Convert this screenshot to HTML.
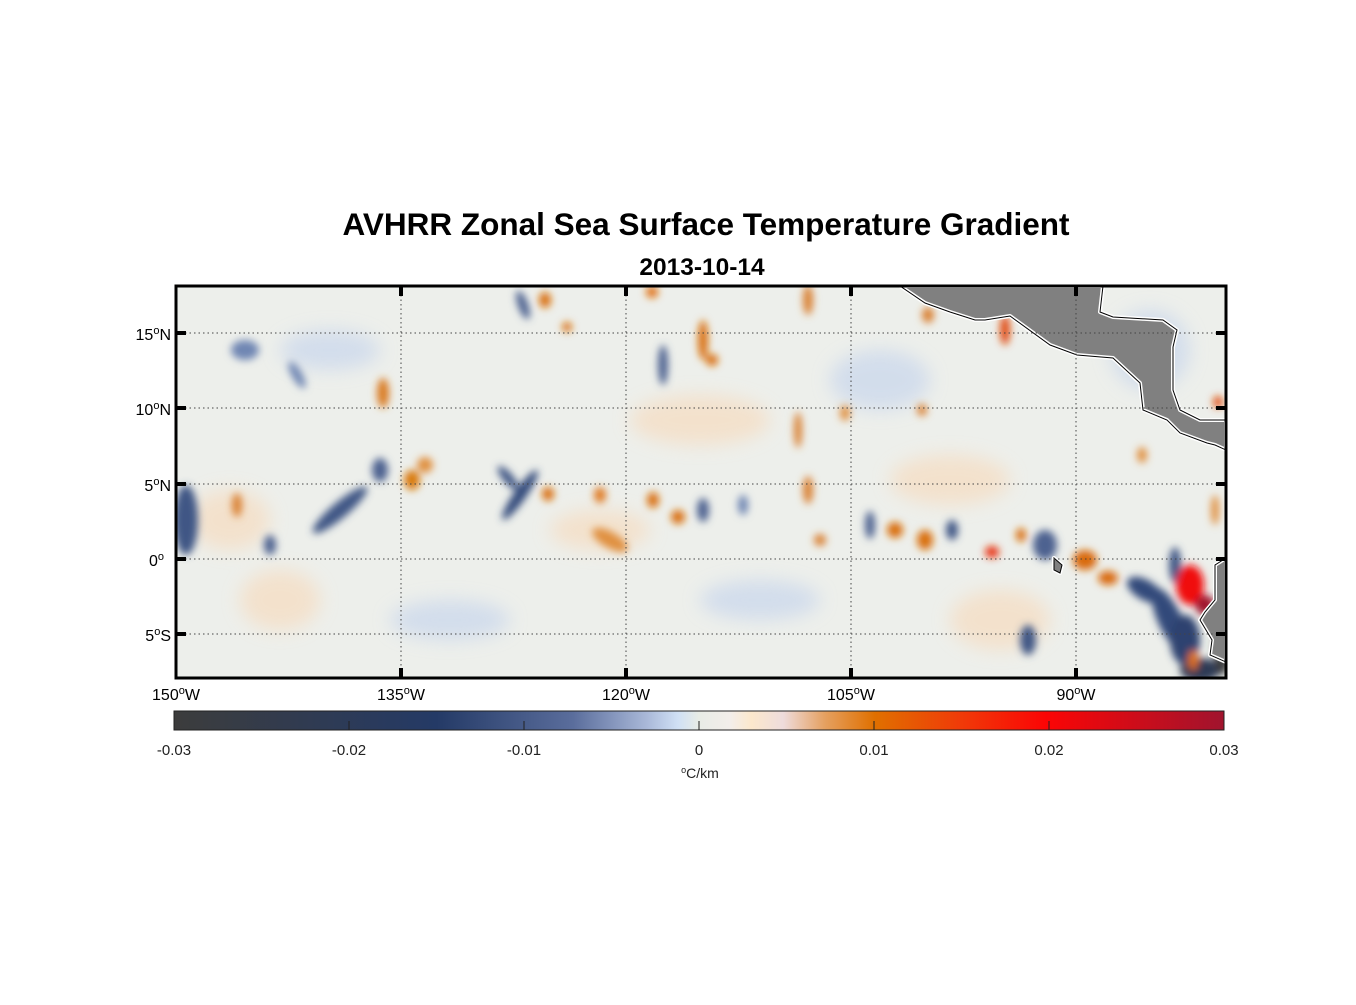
<!DOCTYPE html>
<html><head><meta charset="utf-8"><style>
body{margin:0;background:#fff;width:1356px;height:1000px;overflow:hidden;font-family:"Liberation Sans",sans-serif}
</style></head><body>
<svg width="1356" height="1000" xmlns="http://www.w3.org/2000/svg" font-family="Liberation Sans, sans-serif">
<defs>
<filter id="b" x="-50%" y="-50%" width="200%" height="200%"><feGaussianBlur stdDeviation="4"/></filter>
<filter id="b2" x="-50%" y="-50%" width="200%" height="200%"><feGaussianBlur stdDeviation="9"/></filter>
<clipPath id="c"><rect x="176" y="286" width="1050" height="392"/></clipPath>
<linearGradient id="cb" x1="0" x2="1">
<stop offset="0" stop-color="#3c3c3c"/><stop offset="0.25" stop-color="#243a66"/>
<stop offset="0.38" stop-color="#5a6d9c"/><stop offset="0.45" stop-color="#a9b8d8"/>
<stop offset="0.48" stop-color="#d0e0f5"/><stop offset="0.5" stop-color="#e8ece6"/>
<stop offset="0.53" stop-color="#f3eeea"/><stop offset="0.55" stop-color="#fce8cc"/>
<stop offset="0.58" stop-color="#eedcdc"/><stop offset="0.62" stop-color="#e5a060"/>
<stop offset="0.667" stop-color="#e07000"/><stop offset="0.75" stop-color="#f03a08"/>
<stop offset="0.83" stop-color="#fb0505"/><stop offset="1" stop-color="#a0142e"/>
</linearGradient>
</defs>
<text x="706" y="235" font-size="31.5" font-weight="bold" text-anchor="middle">AVHRR Zonal Sea Surface Temperature Gradient</text>
<text x="702" y="275" font-size="24.5" font-weight="bold" text-anchor="middle">2013-10-14</text>
<g clip-path="url(#c)">
<rect x="176" y="286" width="1050" height="392" fill="#edefeb"/>
<g filter="url(#b2)" opacity="0.7">
<ellipse cx="230" cy="520" rx="40" ry="30" fill="#f6dcc0"/>
<ellipse cx="600" cy="530" rx="50" ry="20" fill="#f6dcc0"/>
<ellipse cx="330" cy="350" rx="50" ry="20" fill="#c8d6ec"/>
<ellipse cx="760" cy="600" rx="60" ry="20" fill="#c8d6ec"/>
<ellipse cx="950" cy="480" rx="60" ry="25" fill="#f6dcc0"/>
<ellipse cx="450" cy="620" rx="60" ry="20" fill="#c8d6ec"/>
<ellipse cx="1150" cy="350" rx="40" ry="40" fill="#c8d6ec"/>
<ellipse cx="700" cy="420" rx="70" ry="25" fill="#f6dcc0"/>
<ellipse cx="880" cy="380" rx="50" ry="30" fill="#c8d6ec"/>
<ellipse cx="280" cy="600" rx="40" ry="30" fill="#f6dcc0"/>
<ellipse cx="1000" cy="620" rx="50" ry="30" fill="#f6dcc0"/>
</g>
<g filter="url(#b)">
<ellipse cx="186" cy="520" rx="12" ry="35" fill="#3f5685"/>
<ellipse cx="245" cy="350" rx="14" ry="10" fill="#6f86b3"/>
<ellipse cx="297" cy="375" rx="5" ry="15" fill="#6f86b3" transform="rotate(-30 297 375)"/>
<ellipse cx="270" cy="545" rx="6" ry="10" fill="#4d6290"/>
<ellipse cx="340" cy="510" rx="35" ry="8" fill="#3f5685" transform="rotate(-40 340 510)"/>
<ellipse cx="380" cy="470" rx="8" ry="12" fill="#4d6290"/>
<ellipse cx="237" cy="505" rx="5" ry="12" fill="#d98030"/>
<ellipse cx="383" cy="393" rx="6" ry="15" fill="#d97a20"/>
<ellipse cx="412" cy="480" rx="8" ry="10" fill="#d97a10"/>
<ellipse cx="425" cy="465" rx="8" ry="8" fill="#e09040"/>
<ellipse cx="520" cy="495" rx="6" ry="30" fill="#33497a" transform="rotate(35 520 495)"/>
<ellipse cx="508" cy="478" rx="5" ry="15" fill="#3f5685" transform="rotate(-40 508 478)"/>
<ellipse cx="548" cy="494" rx="6" ry="7" fill="#d97010"/>
<ellipse cx="600" cy="495" rx="6" ry="8" fill="#e07a20"/>
<ellipse cx="610" cy="540" rx="20" ry="8" fill="#e09040" transform="rotate(30 610 540)"/>
<ellipse cx="523" cy="305" rx="5" ry="15" fill="#4d6290" transform="rotate(-20 523 305)"/>
<ellipse cx="545" cy="300" rx="6" ry="8" fill="#d97010"/>
<ellipse cx="567" cy="327" rx="5" ry="5" fill="#d97010"/>
<ellipse cx="652" cy="292" rx="6" ry="6" fill="#e07010"/>
<ellipse cx="663" cy="365" rx="5" ry="20" fill="#4d6290"/>
<ellipse cx="703" cy="340" rx="5" ry="20" fill="#d97010"/>
<ellipse cx="712" cy="360" rx="6" ry="6" fill="#d97010"/>
<ellipse cx="653" cy="500" rx="6" ry="8" fill="#d97010"/>
<ellipse cx="678" cy="517" rx="7" ry="7" fill="#d97010"/>
<ellipse cx="703" cy="510" rx="6" ry="12" fill="#4d6290"/>
<ellipse cx="743" cy="505" rx="5" ry="10" fill="#6f86b3"/>
<ellipse cx="798" cy="430" rx="4" ry="18" fill="#d98030"/>
<ellipse cx="808" cy="490" rx="5" ry="14" fill="#d98030"/>
<ellipse cx="820" cy="540" rx="6" ry="6" fill="#d98030"/>
<ellipse cx="808" cy="300" rx="5" ry="15" fill="#d98030"/>
<ellipse cx="845" cy="413" rx="5" ry="8" fill="#e09040"/>
<ellipse cx="870" cy="525" rx="5" ry="14" fill="#4d6290"/>
<ellipse cx="895" cy="530" rx="8" ry="8" fill="#d97010"/>
<ellipse cx="925" cy="540" rx="8" ry="10" fill="#d97010"/>
<ellipse cx="952" cy="530" rx="6" ry="10" fill="#3f5685"/>
<ellipse cx="992" cy="552" rx="7" ry="6" fill="#e83010"/>
<ellipse cx="1021" cy="535" rx="5" ry="7" fill="#d97010"/>
<ellipse cx="1045" cy="545" rx="12" ry="15" fill="#4d6290"/>
<ellipse cx="1028" cy="640" rx="8" ry="15" fill="#3f5685"/>
<ellipse cx="1085" cy="560" rx="12" ry="10" fill="#d96a10"/>
<ellipse cx="1108" cy="578" rx="10" ry="7" fill="#d96a10"/>
<ellipse cx="1145" cy="590" rx="20" ry="10" fill="#33497a" transform="rotate(30 1145 590)"/>
<ellipse cx="1170" cy="620" rx="12" ry="35" fill="#33497a" transform="rotate(-25 1170 620)"/>
<ellipse cx="1185" cy="640" rx="15" ry="25" fill="#2e4270"/>
<ellipse cx="1200" cy="670" rx="20" ry="12" fill="#2e3a55"/>
<ellipse cx="1175" cy="565" rx="6" ry="18" fill="#3f5685"/>
<ellipse cx="1190" cy="585" rx="14" ry="20" fill="#f01010"/>
<ellipse cx="1205" cy="605" rx="10" ry="10" fill="#a0142e"/>
<ellipse cx="1193" cy="660" rx="5" ry="10" fill="#e07010"/>
<ellipse cx="1005" cy="330" rx="5" ry="15" fill="#e04a10"/>
<ellipse cx="928" cy="315" rx="6" ry="8" fill="#d98030"/>
<ellipse cx="1218" cy="402" rx="5" ry="6" fill="#e05010"/>
<ellipse cx="1142" cy="455" rx="5" ry="8" fill="#e09040"/>
<ellipse cx="1215" cy="510" rx="4" ry="15" fill="#e09040"/>
<ellipse cx="922" cy="410" rx="5" ry="6" fill="#d98030"/>
<ellipse cx="1222" cy="650" rx="8" ry="25" fill="#3c3c3c"/>
</g>
<g stroke="#fff" stroke-width="4" fill="#808080" stroke-linejoin="round">
<polygon points="900,286 1103,286 1100,312 1113,317 1163,320 1177,330 1173,347 1173,390 1180,410 1200,420 1226,420 1226,450 1215,445 1207,443 1180,433 1167,420 1143,410 1140,383 1113,358 1077,355 1050,345 1010,316 985,320 975,320 950,312 925,303"/>
<polygon points="1226,558 1215,565 1215,600 1205,612 1200,620 1212,640 1210,655 1226,662"/>
<polygon points="1054,558 1062,565 1060,573 1054,570"/>
</g>
<g stroke="#000" stroke-width="1" fill="none">
<polygon points="900,286 1103,286 1100,312 1113,317 1163,320 1177,330 1173,347 1173,390 1180,410 1200,420 1226,420 1226,450 1215,445 1207,443 1180,433 1167,420 1143,410 1140,383 1113,358 1077,355 1050,345 1010,316 985,320 975,320 950,312 925,303"/>
<polygon points="1226,558 1215,565 1215,600 1205,612 1200,620 1212,640 1210,655 1226,662"/>
<polygon points="1054,558 1062,565 1060,573 1054,570" fill="#808080"/>
</g>
<g stroke="#444" stroke-width="1" stroke-dasharray="1.5,3">
<line x1="176" x2="1226" y1="333" y2="333"/><line x1="176" x2="1226" y1="408" y2="408"/>
<line x1="176" x2="1226" y1="484" y2="484"/><line x1="176" x2="1226" y1="559" y2="559"/>
<line x1="176" x2="1226" y1="634" y2="634"/>
<line x1="401" x2="401" y1="286" y2="678"/><line x1="626" x2="626" y1="286" y2="678"/>
<line x1="851" x2="851" y1="286" y2="678"/><line x1="1076" x2="1076" y1="286" y2="678"/>
</g>
</g>
<rect x="176" y="286" width="1050" height="392" fill="none" stroke="#000" stroke-width="3"/>
<g stroke="#000" stroke-width="4">
<line x1="176" x2="186" y1="333" y2="333"/><line x1="176" x2="186" y1="408" y2="408"/><line x1="176" x2="186" y1="484" y2="484"/><line x1="176" x2="186" y1="559" y2="559"/><line x1="176" x2="186" y1="634" y2="634"/>
<line x1="1216" x2="1226" y1="333" y2="333"/><line x1="1216" x2="1226" y1="408" y2="408"/><line x1="1216" x2="1226" y1="484" y2="484"/><line x1="1216" x2="1226" y1="559" y2="559"/><line x1="1216" x2="1226" y1="634" y2="634"/>
<line x1="401" x2="401" y1="286" y2="296"/><line x1="626" x2="626" y1="286" y2="296"/><line x1="851" x2="851" y1="286" y2="296"/><line x1="1076" x2="1076" y1="286" y2="296"/>
<line x1="401" x2="401" y1="668" y2="678"/><line x1="626" x2="626" y1="668" y2="678"/><line x1="851" x2="851" y1="668" y2="678"/><line x1="1076" x2="1076" y1="668" y2="678"/>
</g>
<g font-size="16" text-anchor="end">
<text x="171" y="340">15<tspan font-size="11" dy="-6">o</tspan><tspan dy="6">N</tspan></text>
<text x="171" y="415">10<tspan font-size="11" dy="-6">o</tspan><tspan dy="6">N</tspan></text>
<text x="171" y="491">5<tspan font-size="11" dy="-6">o</tspan><tspan dy="6">N</tspan></text>
<text x="164" y="566">0<tspan font-size="11" dy="-6">o</tspan></text>
<text x="171" y="641">5<tspan font-size="11" dy="-6">o</tspan><tspan dy="6">S</tspan></text>
</g>
<g font-size="16" text-anchor="middle">
<text x="176" y="700">150<tspan font-size="11" dy="-6">o</tspan><tspan dy="6">W</tspan></text>
<text x="401" y="700">135<tspan font-size="11" dy="-6">o</tspan><tspan dy="6">W</tspan></text>
<text x="626" y="700">120<tspan font-size="11" dy="-6">o</tspan><tspan dy="6">W</tspan></text>
<text x="851" y="700">105<tspan font-size="11" dy="-6">o</tspan><tspan dy="6">W</tspan></text>
<text x="1076" y="700">90<tspan font-size="11" dy="-6">o</tspan><tspan dy="6">W</tspan></text>
</g>
<rect x="174" y="711" width="1050" height="19" fill="url(#cb)" stroke="#222" stroke-width="1"/>
<g stroke="#222" stroke-width="1">
<line x1="349" x2="349" y1="721" y2="730"/><line x1="524" x2="524" y1="721" y2="730"/><line x1="699" x2="699" y1="721" y2="730"/><line x1="874" x2="874" y1="721" y2="730"/><line x1="1049" x2="1049" y1="721" y2="730"/>
</g>
<g font-size="15" text-anchor="middle" fill="#222">
<text x="174" y="755">-0.03</text><text x="349" y="755">-0.02</text><text x="524" y="755">-0.01</text><text x="699" y="755">0</text><text x="874" y="755">0.01</text><text x="1049" y="755">0.02</text><text x="1224" y="755">0.03</text>
<text x="700" y="778" font-size="14"><tspan font-size="9" dy="-5">o</tspan><tspan dy="5">C/km</tspan></text>
</g>
</svg>
</body></html>
